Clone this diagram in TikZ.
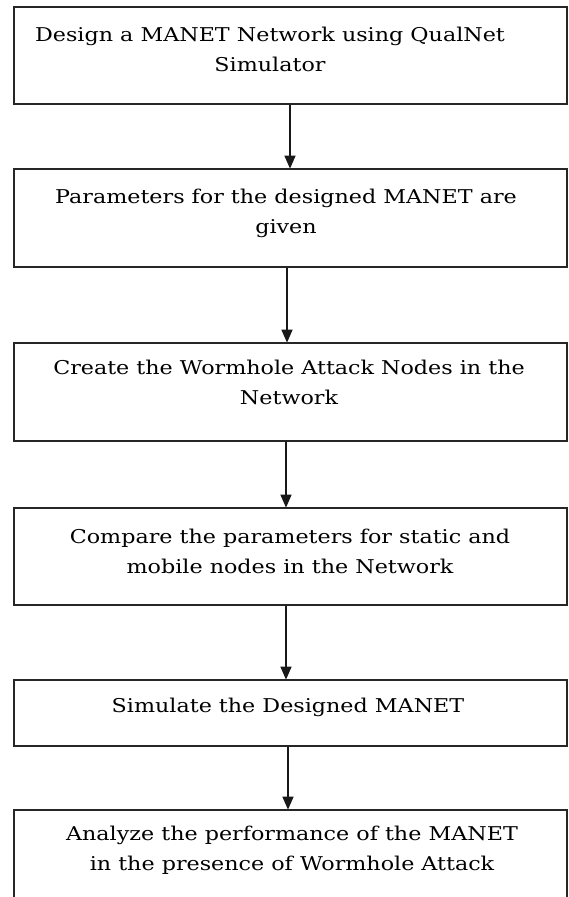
\documentclass[tikz,border=0pt]{standalone}
\usepackage{fontspec}
\setmainfont{DejaVu Serif}[FakeStretch=1.17]
\usetikzlibrary{arrows.meta}
\tikzset{
  stepbox/.style={draw=black!85, line width=1.7pt, minimum width=553pt, inner sep=0pt, fill=white},
  steptext/.style={align=center, font=\fontsize{19}{30}\selectfont, inner sep=0pt, text=black},
  flow/.style={draw=black!90, line width=1.3pt, -{Triangle[width=11pt,length=13pt]}, shorten >=-0.5pt}
}
\begin{document}
\begin{tikzpicture}[x=1pt,y=-1pt]
  \clip (0,0) rectangle (569,897);
  \fill[white] (0,0) rectangle (569,897);
  % process boxes
  \node[stepbox, minimum height=97pt] (b1) at (290.5,55.5) {};
  \node[stepbox, minimum height=98pt] (b2) at (290.5,218) {};
  \node[stepbox, minimum height=98pt] (b3) at (290.5,392) {};
  \node[stepbox, minimum height=97pt] (b4) at (290.5,556.5) {};
  \node[stepbox, minimum height=66pt] (b5) at (290.5,713) {};
  \node[stepbox, minimum height=120pt] (b6) at (290.5,870) {};
  % box labels
  \node[steptext] (t1) at (270,49.5) {Design a MANET Network using QualNet\\Simulator};
  \node[steptext] (t2) at (286,213.5) {Parameters for the designed MANET are\\given};
  \node[steptext] (t3) at (289,382.5) {Create the Wormhole Attack Nodes in the\\Network};
  \node[steptext] (t4) at (290,551) {Compare the parameters for static and\\mobile nodes in the Network};
  \node[steptext] (t5) at (288,707) {Simulate the Designed MANET};
  \node[steptext] (t6) at (292,850) {Analyze the performance of the MANET\\in the presence of Wormhole Attack};
  % connectors
  \draw[flow] ([xshift=-0.5pt]b1.south) -- ([xshift=-0.5pt]b2.north);
  \draw[flow] ([xshift=-3.5pt]b2.south) -- ([xshift=-3.5pt]b3.north);
  \draw[flow] ([xshift=-4.5pt]b3.south) -- ([xshift=-4.5pt]b4.north);
  \draw[flow] ([xshift=-4.5pt]b4.south) -- ([xshift=-4.5pt]b5.north);
  \draw[flow] ([xshift=-2.5pt]b5.south) -- ([xshift=-2.5pt]b6.north);
\end{tikzpicture}
\end{document}
